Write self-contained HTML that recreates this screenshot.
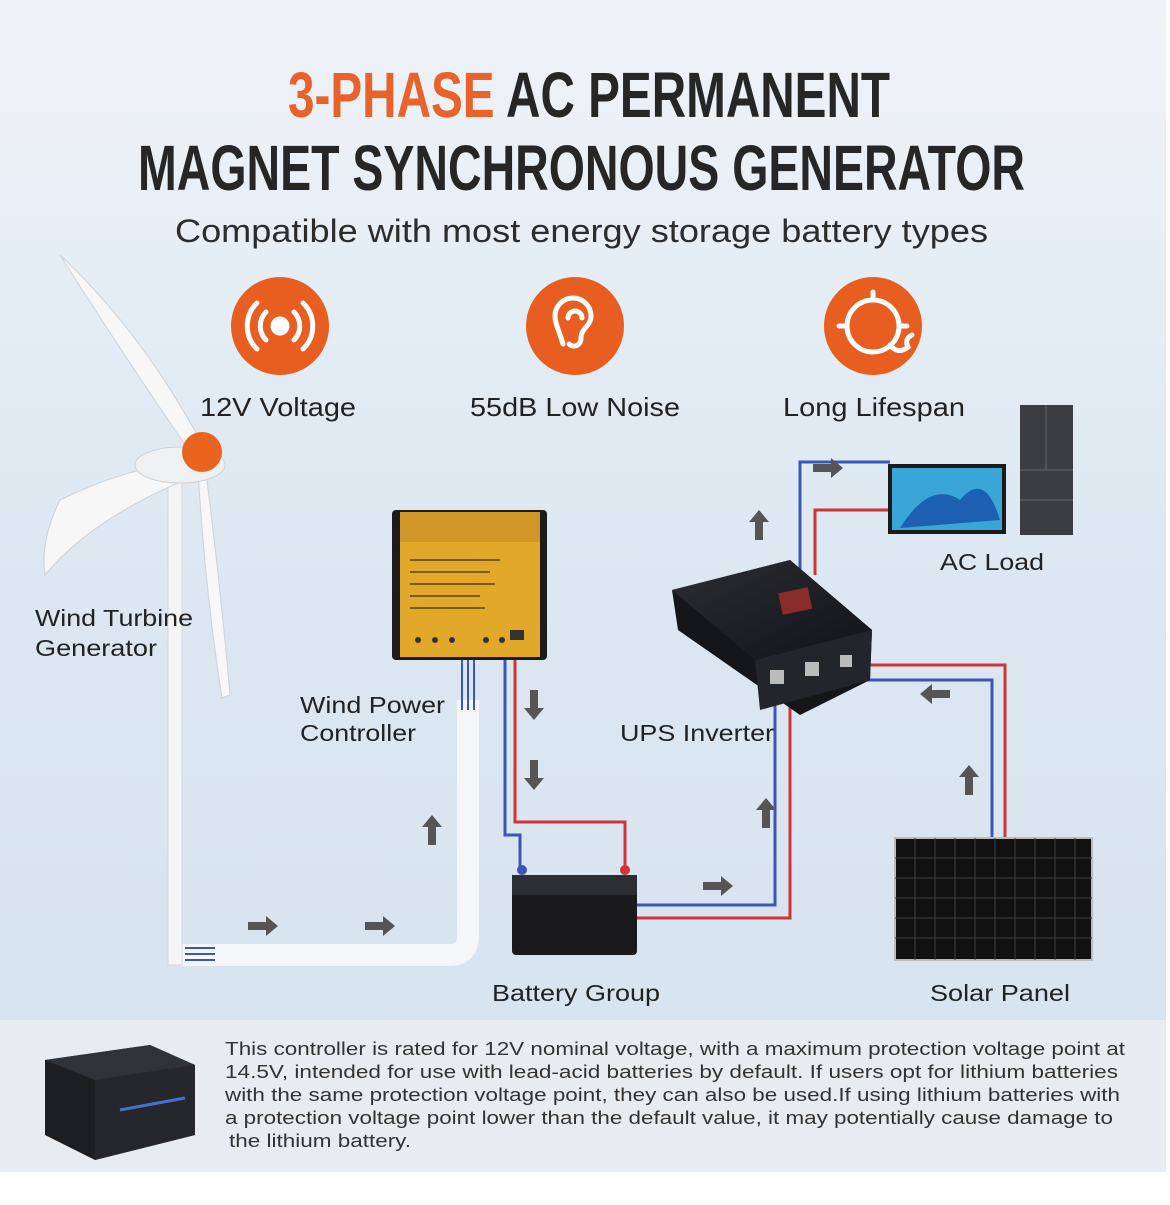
<!DOCTYPE html>
<html><head><meta charset="utf-8"><style>
html,body{margin:0;padding:0;}
body{width:1170px;height:1200px;overflow:hidden;background:#fff;font-family:"Liberation Sans",sans-serif;}
</style></head><body>
<svg width="1170" height="1200" viewBox="0 0 1170 1200" xmlns="http://www.w3.org/2000/svg">
<defs>
<linearGradient id="bg" x1="0" y1="0" x2="0" y2="1">
<stop offset="0" stop-color="#eef3f8"/><stop offset="0.5" stop-color="#dce7f1"/><stop offset="1" stop-color="#d6e2ee"/>
</linearGradient>
<linearGradient id="pan" x1="0" y1="0" x2="1" y2="1"><stop offset="0" stop-color="#2a2d33"/><stop offset="1" stop-color="#111318"/></linearGradient>
</defs>
<rect x="0" y="0" width="1170" height="1200" fill="#fff"/>
<rect x="0" y="0" width="1166" height="1172" fill="url(#bg)"/>
<rect x="0" y="1020" width="1166" height="152" fill="#e6ecf2"/>

<!-- title -->
<text x="288" y="117" textLength="602" lengthAdjust="spacingAndGlyphs" font-weight="bold" font-size="64" fill="#262626"><tspan fill="#e8622a">3-PHASE</tspan> AC PERMANENT</text>
<text x="138" y="190" textLength="887" lengthAdjust="spacingAndGlyphs" font-weight="bold" font-size="64" fill="#262626">MAGNET SYNCHRONOUS GENERATOR</text>
<text x="175" y="242" textLength="813" lengthAdjust="spacingAndGlyphs" font-size="32" fill="#2c2c2c">Compatible with most energy storage battery types</text>

<!-- icons -->
<g fill="#e85d20"><circle cx="280" cy="326" r="49"/><circle cx="575" cy="326" r="49"/><circle cx="873" cy="326" r="49"/></g>
<g stroke="#fff" stroke-width="5" fill="none" stroke-linecap="round">
<circle cx="280" cy="326" r="7" fill="#fff"/>
<path d="M266 312 a20 20 0 0 0 0 28 M294 312 a20 20 0 0 1 0 28 M257 303 a32 32 0 0 0 0 46 M303 303 a32 32 0 0 1 0 46"/>
<path d="M563 344 c-4 -14 -8 -20 -8 -28 a18 18 0 0 1 36 0 c0 10 -10 12 -10 22 c0 8 -8 10 -12 6"/>
<path d="M568 318 a7 7 0 0 1 14 0"/>
<circle cx="873" cy="326" r="26"/>
<path d="M873 300 v-8 M899 326 h8 M847 326 h-8"/>
<path d="M890 345 q8 10 18 2 q-4 -8 4 -12"/>
</g>
<text x="200" y="416" textLength="156" lengthAdjust="spacingAndGlyphs" font-size="26" fill="#222">12V Voltage</text>
<text x="470" y="416" textLength="210" lengthAdjust="spacingAndGlyphs" font-size="26" fill="#222">55dB Low Noise</text>
<text x="783" y="416" textLength="182" lengthAdjust="spacingAndGlyphs" font-size="26" fill="#222">Long Lifespan</text>

<!-- wires -->
<g fill="none" stroke-width="3">
<path d="M505 660 V835 H520 V870" stroke="#3a56b8"/>
<path d="M515 660 V822 H625 V870" stroke="#d03434"/>
<path d="M635 905 H775 V700" stroke="#3a56b8"/>
<path d="M635 918 H790 V705" stroke="#d03434"/>
<path d="M800 575 V462 H890" stroke="#3a56b8"/>
<path d="M815 575 V510 H890" stroke="#d03434"/>
<path d="M860 665 H1005 V840" stroke="#d03434"/>
<path d="M865 680 H992 V840" stroke="#3a56b8"/>
</g>
<path d="M180 955 H450 Q468 955 468 935 V700" fill="none" stroke="#f4f6f8" stroke-width="22"/>
<g stroke="#3a56b8" stroke-width="2"><line x1="462" y1="660" x2="462" y2="710"/><line x1="468" y1="660" x2="468" y2="710"/><line x1="474" y1="660" x2="474" y2="710"/></g>

<!-- arrows -->
<g fill="#555">
<path d="M248 922 h18 v-6 l12 10 l-12 10 v-6 h-18z"/>
<path d="M365 922 h18 v-6 l12 10 l-12 10 v-6 h-18z"/>
<path d="M703 882 h18 v-6 l12 10 l-12 10 v-6 h-18z"/>
<path d="M813 464 h18 v-6 l12 10 l-12 10 v-6 h-18z"/>
<path d="M950 690 h-18 v-6 l-12 10 l12 10 v-6 h18z"/>
<path d="M428 845 v-18 h-6 l10 -12 l10 12 h-6 v18z"/>
<path d="M762 828 v-18 h-6 l10 -12 l10 12 h-6 v18z"/>
<path d="M755 540 v-18 h-6 l10 -12 l10 12 h-6 v18z"/>
<path d="M965 795 v-18 h-6 l10 -12 l10 12 h-6 v18z"/>
<path d="M530 690 v18 h-6 l10 12 l10 -12 h-6 v-18z"/>
<path d="M530 760 v18 h-6 l10 12 l10 -12 h-6 v-18z"/>
</g>

<!-- wind turbine -->
<rect x="168" y="470" width="14" height="495" fill="#f4f5f6" stroke="#d3d8de"/>
<path d="M60 255 Q140 330 200 440 L190 452 Q120 350 60 255z" fill="#f7f7f7" stroke="#ccd2d8"/>
<path d="M190 460 Q120 470 60 500 Q40 540 45 575 Q90 520 185 480z" fill="#f7f7f7" stroke="#ccd2d8"/>
<path d="M205 465 Q220 580 230 695 L222 698 Q205 590 198 470z" fill="#f7f7f7" stroke="#ccd2d8"/>
<ellipse cx="180" cy="465" rx="45" ry="18" fill="#eef0f2" stroke="#ccd2d8"/>
<circle cx="202" cy="452" r="20" fill="#e8641f"/>
<g stroke="#3a56b8" stroke-width="2"><line x1="185" y1="948" x2="215" y2="948"/><line x1="185" y1="954" x2="215" y2="954"/><line x1="185" y1="960" x2="215" y2="960"/></g>
<text x="35" y="626" textLength="158" lengthAdjust="spacingAndGlyphs" font-size="23" fill="#222">Wind Turbine</text>
<text x="35" y="656" textLength="122" lengthAdjust="spacingAndGlyphs" font-size="23" fill="#222">Generator</text>

<!-- controller -->
<rect x="392" y="510" width="155" height="150" rx="4" fill="#1c1c1c"/>
<rect x="400" y="512" width="140" height="145" fill="#e2a82a"/>
<rect x="400" y="512" width="140" height="30" fill="#d19628"/>
<g stroke="#5a4210" stroke-width="1.5"><line x1="410" y1="560" x2="500" y2="560"/><line x1="410" y1="572" x2="490" y2="572"/><line x1="410" y1="584" x2="495" y2="584"/><line x1="410" y1="596" x2="480" y2="596"/><line x1="410" y1="608" x2="485" y2="608"/></g>
<g fill="#333"><circle cx="418" cy="640" r="3"/><circle cx="435" cy="640" r="3"/><circle cx="452" cy="640" r="3"/><circle cx="486" cy="640" r="3"/><circle cx="502" cy="640" r="3"/><rect x="510" y="630" width="14" height="10"/></g>
<text x="300" y="713" textLength="145" lengthAdjust="spacingAndGlyphs" font-size="23" fill="#222">Wind Power</text>
<text x="300" y="741" textLength="116" lengthAdjust="spacingAndGlyphs" font-size="23" fill="#222">Controller</text>

<!-- inverter -->
<path d="M672 590 L790 560 L872 630 L870 680 L800 715 L678 630z" fill="#15161a"/>
<path d="M672 590 L790 560 L872 630 L755 660z" fill="url(#pan)"/>
<path d="M755 660 L872 630 L870 680 L760 710z" fill="#22252b"/>
<rect x="780" y="590" width="30" height="22" fill="#8a2c2c" transform="rotate(-12 795 600)"/>
<g fill="#bbb"><rect x="770" y="670" width="14" height="14"/><rect x="805" y="662" width="14" height="14"/><rect x="840" y="655" width="12" height="12"/></g>
<text x="620" y="741" textLength="154" lengthAdjust="spacingAndGlyphs" font-size="23" fill="#222">UPS Inverter</text>

<!-- TV & fridge -->
<rect x="888" y="464" width="118" height="70" fill="#1b1b1b"/>
<rect x="892" y="468" width="110" height="62" fill="#3aa6d8"/>
<path d="M900 528 Q930 480 960 500 Q985 470 1000 520z" fill="#1d5fb0"/>
<rect x="1020" y="405" width="53" height="130" fill="#3b3d42"/>
<line x1="1046" y1="405" x2="1046" y2="470" stroke="#666"/><line x1="1020" y1="470" x2="1073" y2="470" stroke="#666"/><line x1="1020" y1="500" x2="1073" y2="500" stroke="#666"/>
<text x="940" y="570" textLength="104" lengthAdjust="spacingAndGlyphs" font-size="23" fill="#222">AC Load</text>

<!-- battery -->
<rect x="512" y="875" width="125" height="80" rx="4" fill="#1a1a1c"/>
<rect x="512" y="875" width="125" height="20" fill="#2c2e33"/>
<circle cx="522" cy="870" r="5" fill="#3a56b8"/><circle cx="625" cy="870" r="5" fill="#d03434"/>
<text x="492" y="1001" textLength="168" lengthAdjust="spacingAndGlyphs" font-size="23" fill="#222">Battery Group</text>

<!-- solar -->
<rect x="895" y="838" width="197" height="122" fill="#111" stroke="#bbb" stroke-width="2"/>
<g stroke="#3c3f46" stroke-width="1">
<path d="M915 838V960M935 838V960M955 838V960M975 838V960M995 838V960M1015 838V960M1035 838V960M1055 838V960M1075 838V960"/>
<path d="M895 858H1092M895 878H1092M895 898H1092M895 918H1092M895 938H1092"/>
</g>
<text x="930" y="1001" textLength="140" lengthAdjust="spacingAndGlyphs" font-size="23" fill="#222">Solar Panel</text>

<!-- bottom battery -->
<path d="M45 1060 L150 1045 L195 1065 L195 1135 L95 1160 L45 1135z" fill="#1d1e22"/>
<path d="M45 1060 L150 1045 L195 1065 L95 1080z" fill="#2f3238"/>
<path d="M95 1080 L195 1065 L195 1135 L95 1160z" fill="#25272c"/>
<path d="M120 1110 L185 1098" stroke="#4a6fd0" stroke-width="3"/>

<!-- paragraph -->
<g font-size="18.5" fill="#333" lengthAdjust="spacingAndGlyphs">
<text x="225" y="1055" textLength="900" lengthAdjust="spacingAndGlyphs">This controller is rated for 12V nominal voltage, with a maximum protection voltage point at</text>
<text x="225" y="1078" textLength="893" lengthAdjust="spacingAndGlyphs">14.5V, intended for use with lead-acid batteries by default. If users opt for lithium batteries</text>
<text x="225" y="1101" textLength="895" lengthAdjust="spacingAndGlyphs">with the same protection voltage point, they can also be used.If using lithium batteries with</text>
<text x="225" y="1124" textLength="888" lengthAdjust="spacingAndGlyphs">a protection voltage point lower than the default value, it may potentially cause damage to</text>
<text x="229" y="1147" textLength="182" lengthAdjust="spacingAndGlyphs">the lithium battery.</text>
</g>
</svg>
</body></html>
